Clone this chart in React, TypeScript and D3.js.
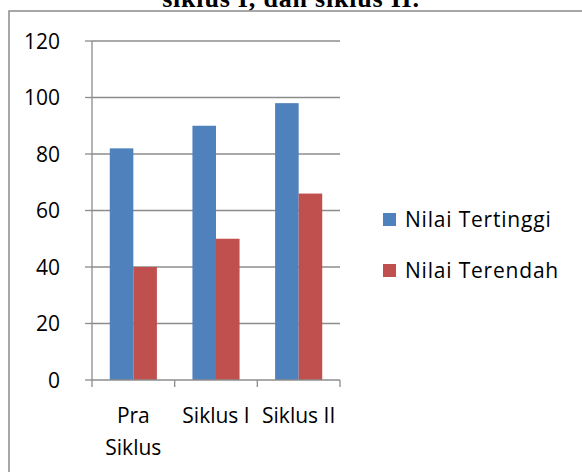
import React from 'react'
import * as d3 from 'd3'

const categories = ['Pra Siklus', 'Siklus I', 'Siklus II']
const seriesNames = ['Nilai Tertinggi', 'Nilai Terendah']
const tertinggi = [82, 90, 98]
const terendah = [40, 50, 66]
const yTicks = [0, 20, 40, 60, 80, 100, 120]
const colors = ['#4F81BD', '#C0504D']
const titleText = 'siklus I, dan siklus II.'

const W = 582
const H = 472
const font = '"Open Sans", Lato, sans-serif'

export default function App() {
  // plot area
  const left = 92, right = 340, top = 41, bottom = 380

  const x = d3.scaleBand().domain(categories).range([left, right])
  const bw = x.bandwidth()
  const x1 = d3.scaleBand().domain(seriesNames).range([bw * 0.215, bw * 0.785])
  const y = d3.scaleLinear().domain([0, 120]).range([bottom, top])

  const values = [tertinggi, terendah]
  const boundaries = categories.map(c => x(c) as number).concat([right])

  return (
    <svg width={W} height={H} style={{ position: 'absolute', left: 0, top: 0 }}>
      <rect x={0} y={0} width={W} height={H} fill="#fff" />
      {/* caption cut off above the frame, as in the source */}
      <text x={291} y={7} textAnchor="middle" fontFamily='"Liberation Serif", serif'
        fontWeight="bold" fontSize={26} letterSpacing={0.8} fill="#000">{titleText}</text>
      {/* chart frame */}
      <path d={`M9,${H + 2} L9,11 L${W + 2},11`} fill="none" stroke="#8a8a8a" strokeWidth={1.5} />

      {/* gridlines */}
      {yTicks.filter(t => t > 0).map(t => (
        <line key={t} x1={left} x2={right} y1={y(t)} y2={y(t)} stroke="#8c8c8c" strokeWidth={1.3} />
      ))}

      {/* bars */}
      {seriesNames.map((s, si) => categories.map((c, ci) => (
        <rect key={s + c}
          x={(x(c) as number) + (x1(s) as number)}
          y={y(values[si][ci])}
          width={x1.bandwidth()}
          height={bottom - y(values[si][ci])}
          fill={colors[si]} />
      )))}

      {/* y axis */}
      <line x1={left} x2={left} y1={top} y2={bottom} stroke="#8c8c8c" strokeWidth={1.3} />
      {yTicks.map(t => (
        <g key={t}>
          <line x1={left - 7} x2={left} y1={y(t)} y2={y(t)} stroke="#8c8c8c" strokeWidth={1.3} />
          <text x={60} y={y(t) + 7.5} textAnchor="end" fontFamily={font} fontSize={21} fill="#000">{t}</text>
        </g>
      ))}

      {/* x axis */}
      <line x1={left} x2={right} y1={bottom} y2={bottom} stroke="#8c8c8c" strokeWidth={1.3} />
      {boundaries.map((b, i) => (
        <line key={i} x1={b} x2={b} y1={bottom} y2={bottom + 7} stroke="#8c8c8c" strokeWidth={1.3} />
      ))}
      {categories.map(c => {
        const cx = (x(c) as number) + bw / 2
        const lines = c === 'Pra Siklus' ? ['Pra', 'Siklus'] : [c]
        return (
          <text key={c} x={cx} y={423} textAnchor="middle" fontFamily={font} fontSize={21} fill="#000">
            {lines.map((l, i) => (
              <tspan key={i} x={cx} dy={i === 0 ? 0 : 32}>{l}</tspan>
            ))}
          </text>
        )
      })}

      {/* legend */}
      {seriesNames.map((s, i) => (
        <g key={s} transform={`translate(383, ${213 + i * 51})`}>
          <rect x={0} y={0} width={13} height={13} fill={colors[i]} />
          <text x={22} y={14} fontFamily={font} fontSize={21} letterSpacing={0.8} fill="#000">{s}</text>
        </g>
      ))}
    </svg>
  )
}
